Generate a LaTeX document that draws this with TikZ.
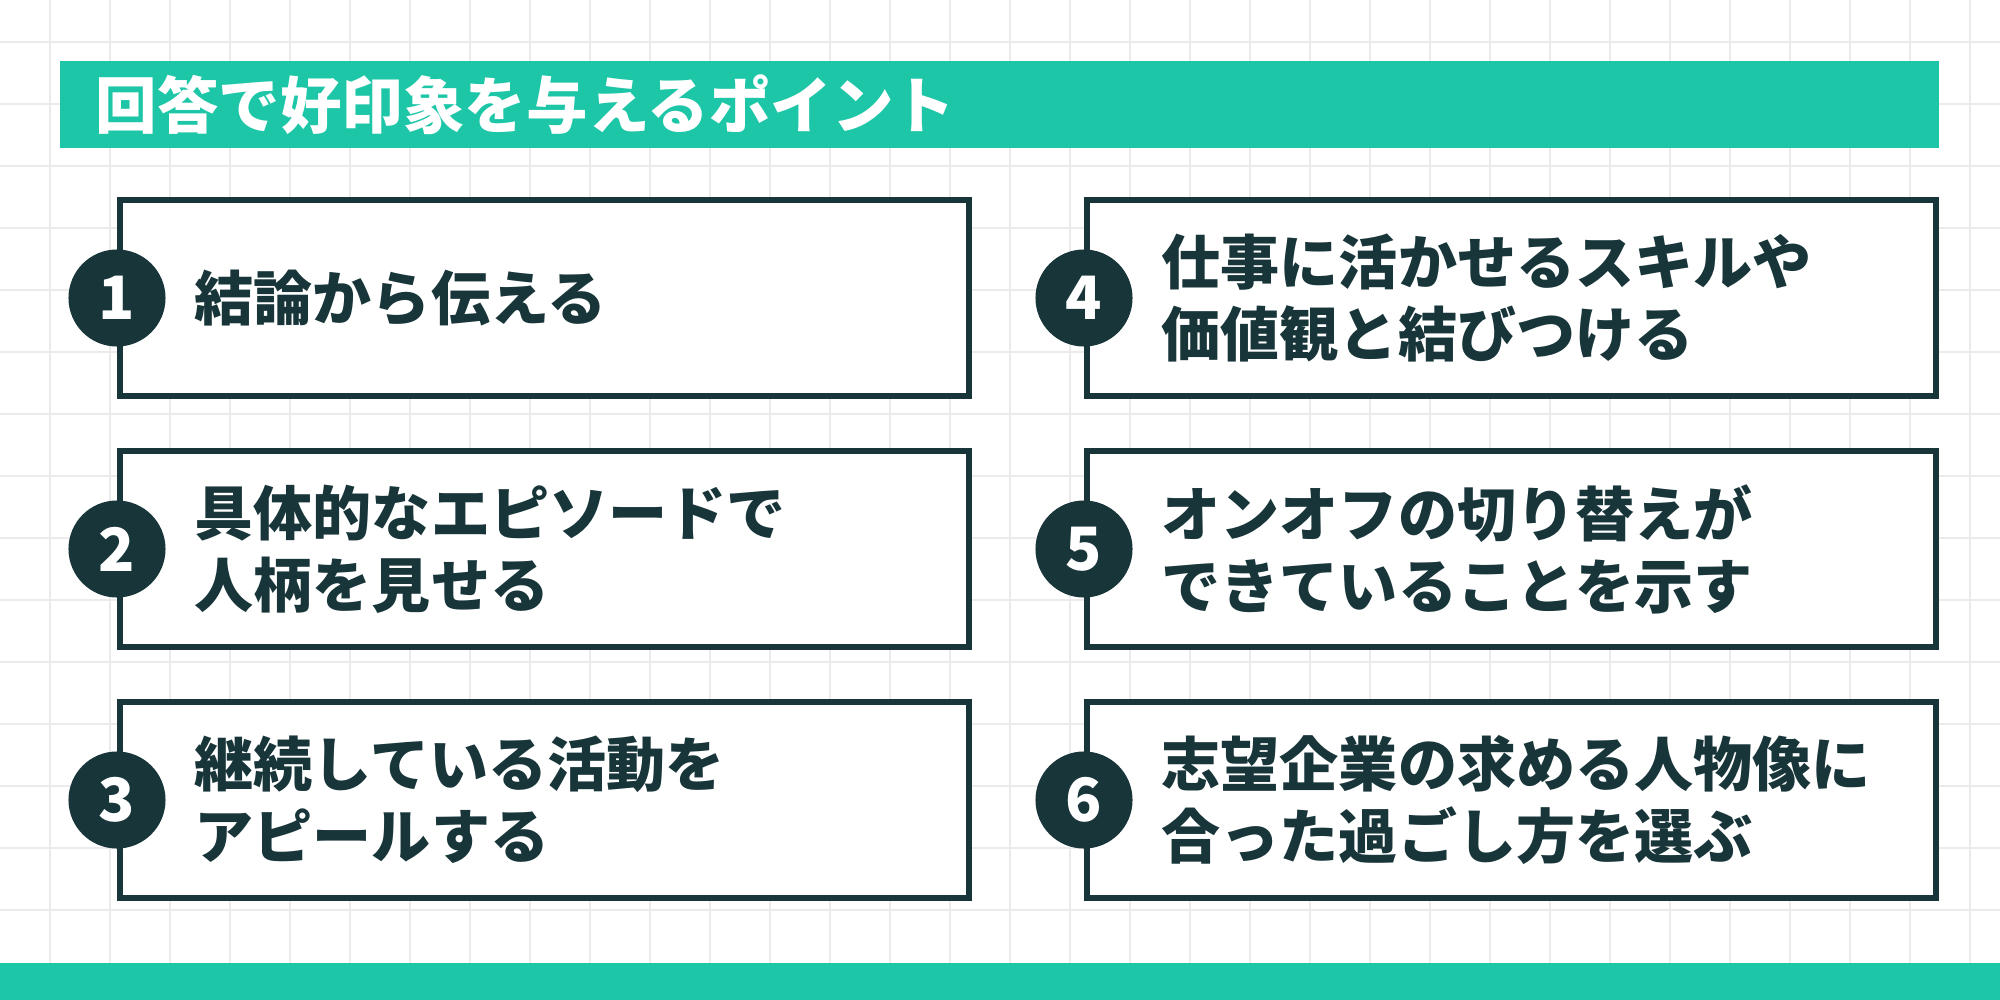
\documentclass[tikz,border=0pt]{standalone}
\usepackage{fontspec}
\setmainfont{Noto Sans CJK JP}
\definecolor{teal}{HTML}{1EC6A8}
\definecolor{dk}{HTML}{183539}
\definecolor{gridc}{HTML}{EBEBEB}
\begin{document}
\begin{tikzpicture}[x=0.01cm,y=-0.01cm,
  card/.style={draw=dk,line width=1.9pt,fill=white},
  num/.style={circle,fill=dk,minimum size=0.97cm,text=white,font=\fontsize{17}{17}\selectfont\bfseries,inner sep=0},
  lbl/.style={anchor=west,text=dk,align=left,font=\fontsize{16.8}{20.5}\selectfont\bfseries,inner sep=0}]
\useasboundingbox (0,0) rectangle (2000,1000);
\fill[white] (0,0) rectangle (2000,1000);
\foreach \i in {0,...,34} \draw[gridc,line width=0.8pt] (\i*60-10,0) -- (\i*60-10,1000);
\foreach \j in {0,...,17} \draw[gridc,line width=0.8pt] (0,\j*62+42) -- (2000,\j*62+42);
\fill[teal] (60,61) rectangle (1939,148);
\node[anchor=west,text=white,font=\fontsize{17.5}{17.5}\selectfont\bfseries,inner sep=0] (title) at (95,105) {回答で好印象を与えるポイント};
\fill[teal] (0,963) rectangle (2000,1000);
\foreach \n/\x/\y/\t in {
 1/120/200/{結論から伝える},
 2/120/451/{具体的なエピソードで\\人柄を見せる},
 3/120/702/{継続している活動を\\アピールする},
 4/1087/200/{仕事に活かせるスキルや\\価値観と結びつける},
 5/1087/451/{オンオフの切り替えが\\できていることを示す},
 6/1087/702/{志望企業の求める人物像に\\合った過ごし方を選ぶ}}{
  \draw[card] (\x,\y) rectangle (\x+849,\y+196);
  \node[num] (c\n) at (\x-3,\y+98) {\n};
  \node[lbl] (t\n) at (\x+74,\y+98) {\t};
}
\end{tikzpicture}
\end{document}
